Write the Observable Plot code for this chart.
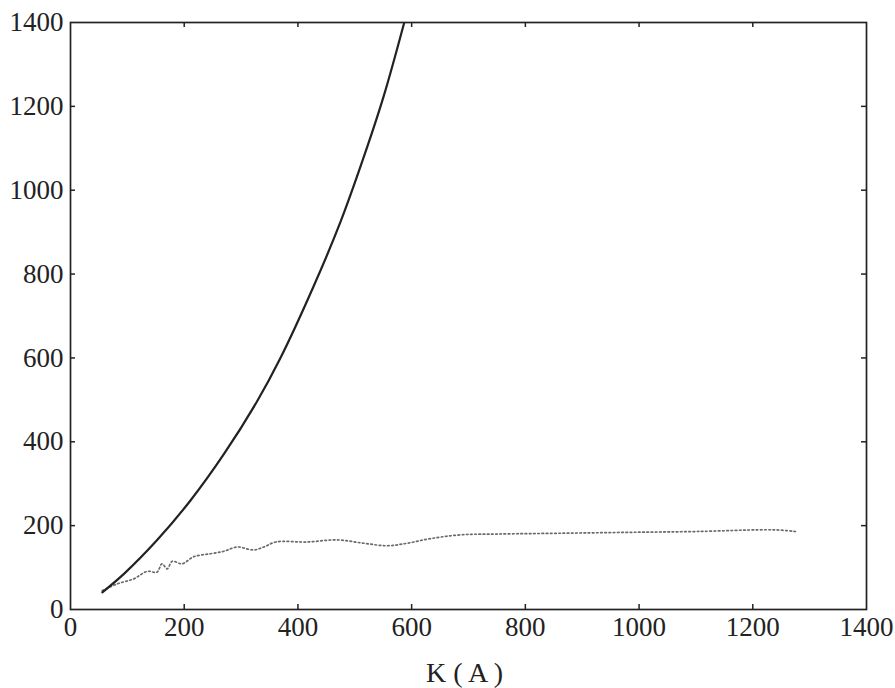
<!DOCTYPE html>
<html>
<head>
<meta charset="utf-8">
<script src="https://cdn.jsdelivr.net/npm/d3@7"></script>
<script src="https://cdn.jsdelivr.net/npm/@observablehq/plot@0.6"></script>
<style>
  html, body { margin: 0; padding: 0; background: #fff; }
  #chart { width: 895px; height: 688px; }
</style>
</head>
<body>
<div id="chart"></div>
<script>
// Tick values
const xTicks = [0, 200, 400, 600, 800, 1000, 1200, 1400];
const yTicks = [0, 200, 400, 600, 800, 1000, 1200, 1400];
const innerTicks = [200, 400, 600, 800, 1000, 1200];
const xLabel = "K ( A )";

// Solid curve (K vs value)
const kSolid = [56, 94, 152, 211, 270, 328, 369, 428, 475, 516, 551, 587];
const ySolid = [41, 85, 165, 260, 371, 496, 599, 772, 925, 1080, 1225, 1400];

// Dotted curve
const kDot = [56, 82, 111, 135, 152, 161, 170, 179, 196, 217, 246, 270, 293, 322, 340, 361, 416, 469, 516, 557, 592, 633, 686, 750, 868, 979, 1100, 1237, 1275];
const yDot = [45, 61, 73, 91, 89, 109, 97, 115, 109, 126, 133, 139, 149, 142, 149, 161, 161, 166, 158, 152, 158, 169, 178, 180, 182, 184, 186, 190, 186];

const solid = kSolid.map((k, i) => ({k, v: ySolid[i]}));
const dotted = kDot.map((k, i) => ({k, v: yDot[i]}));

const H = 688, MT = 22, MB = 79;
const innerH = H - MT - MB;
const W = 895, ML = 70, MR = 29;
const innerW = W - ML - MR;
const tl = 5;

const chart = Plot.plot({
  width: W,
  height: H,
  marginLeft: ML,
  marginRight: MR,
  marginTop: MT,
  marginBottom: MB,
  style: {fontFamily: "'Liberation Serif', 'DejaVu Serif', serif", fontSize: "27px", background: "#fff", color: "#222"},
  x: {domain: [0, 1400]},
  y: {domain: [0, 1400]},
  marks: [
    Plot.line(dotted, {x: "k", y: "v", stroke: "#6a6a6a", strokeWidth: 1.7, strokeDasharray: "1.6 2.6", curve: "catmull-rom"}),
    Plot.line(solid, {x: "k", y: "v", stroke: "#222", strokeWidth: 2.2, curve: "catmull-rom", clip: true}),
    // inward ticks on all four sides
    Plot.tickX(innerTicks, {x: d => d, insetTop: innerH - tl, stroke: "#222", strokeWidth: 1.5}),
    Plot.tickX(innerTicks, {x: d => d, insetBottom: innerH - tl, stroke: "#222", strokeWidth: 1.5}),
    Plot.tickY(innerTicks, {y: d => d, insetRight: innerW - tl, stroke: "#222", strokeWidth: 1.5}),
    Plot.tickY(innerTicks, {y: d => d, insetLeft: innerW - tl, stroke: "#222", strokeWidth: 1.5}),
    Plot.axisX(xTicks, {anchor: "bottom", tickSize: 0, tickPadding: 7, tickFormat: d => String(d), label: null}),
    Plot.axisY(yTicks, {anchor: "left", tickSize: 0, tickPadding: 7, tickFormat: d => String(d), label: null}),
    Plot.text([xLabel], {text: d => d, frameAnchor: "bottom", lineAnchor: "top", dx: -4, dy: 53, fontSize: 28}),
    Plot.frame({stroke: "#222", strokeWidth: 1.7})
  ]
});
document.getElementById("chart").appendChild(chart);
</script>
</body>
</html>
